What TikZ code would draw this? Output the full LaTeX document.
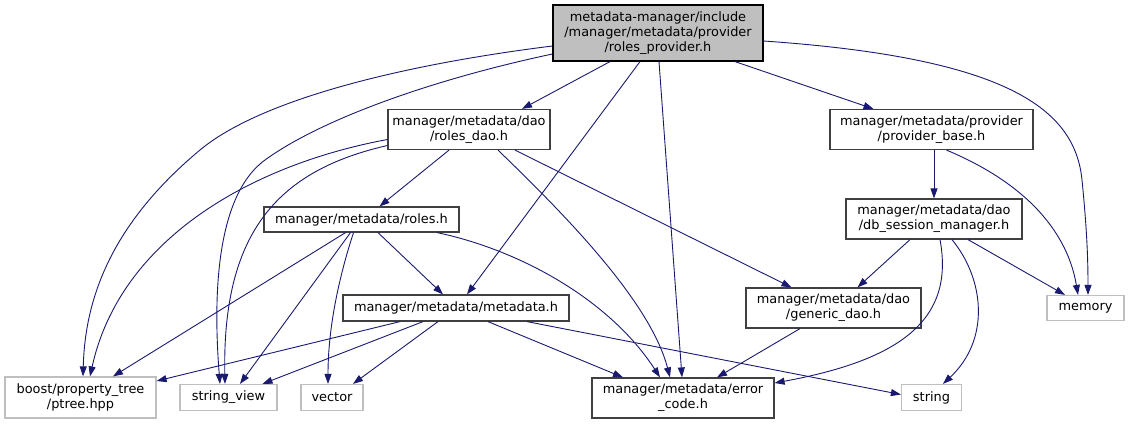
\documentclass[tikz,border=0pt]{standalone}
\usepackage{fontspec}
\setmainfont{DejaVu Sans}
\usetikzlibrary{arrows.meta}
\definecolor{edgeblue}{HTML}{191970}
\definecolor{boxline}{HTML}{404040}
\definecolor{extline}{HTML}{BFBFBF}
\definecolor{rootfill}{HTML}{BFBFBF}
\tikzset{
  filebox/.style={draw=boxline, line width=1.2pt, fill=white, inner sep=0pt,
    align=center, font=\fontsize{12.9pt}{15pt}\selectfont},
  extbox/.style={filebox, draw=extline},
  rootbox/.style={filebox, draw=black, fill=rootfill},
  dep/.style={draw=edgeblue, line width=0.9pt, -{Triangle[length=10pt,width=7pt]}},
}
\begin{document}
\begin{tikzpicture}[x=1pt,y=-1pt]
\useasboundingbox (0,0) rectangle (1130,424);
% nodes
\node[rootbox, minimum width=210pt, minimum height=56pt] (root) at (658,33)
  {metadata-manager/include\\/manager/metadata/provider\\/roles\_provider.h};
\node[filebox, minimum width=162pt, minimum height=40pt] (rolesdao) at (469,129.5)
  {manager/metadata/dao\\/roles\_dao.h};
\node[filebox, minimum width=203pt, minimum height=40pt] (provbase) at (931.5,129.5)
  {manager/metadata/provider\\/provider\_base.h};
\node[filebox, minimum width=195pt, minimum height=25pt] (roles) at (361.5,219.5)
  {manager/metadata/roles.h};
\node[filebox, minimum width=176pt, minimum height=40pt] (dbsess) at (934,219)
  {manager/metadata/dao\\/db\_session\_manager.h};
\node[filebox, minimum width=226pt, minimum height=26pt] (metadata) at (456,308)
  {manager/metadata/metadata.h};
\node[filebox, minimum width=175pt, minimum height=40pt] (generic) at (833.5,308)
  {manager/metadata/dao\\/generic\_dao.h};
\node[extbox, minimum width=77pt, minimum height=25pt] (memory) at (1085.5,308)
  {memory};
\node[extbox, minimum width=151pt, minimum height=41pt] (ptree) at (80.5,397.5)
  {boost/property\_tree\\/ptree.hpp};
\node[extbox, minimum width=97pt, minimum height=26pt] (sview) at (228.5,397.5)
  {string\_view};
\node[extbox, minimum width=62pt, minimum height=26pt] (vector) at (332,397.5)
  {vector};
\node[filebox, minimum width=182pt, minimum height=40pt] (errcode) at (683,398)
  {manager/metadata/error\\\_code.h};
\node[extbox, minimum width=60pt, minimum height=26pt] (string) at (931.5,397.5)
  {string};
% edges from root
\draw[dep] ([yshift=-13pt]root.west) .. controls (400,65) and (260,100) .. (200,150)
  .. controls (110,225) and (85,300) .. ([xshift=2.5pt]ptree.north);
\draw[dep] ([yshift=-21pt]root.west) .. controls (430,80) and (320,120) .. (265,160)
  .. controls (210,200) and (215,320) .. ([xshift=-8.5pt]sview.north);
\draw[dep] ([xshift=-48pt]root.south) -- ([xshift=53pt]rolesdao.north);
\draw[dep] ([xshift=-18pt]root.south) -- ([xshift=11pt]metadata.north);
\draw[dep] ([xshift=1pt]root.south) -- ([xshift=-1pt]errcode.north);
\draw[dep] ([xshift=77pt]root.south) -- ([xshift=-58pt]provbase.north);
\draw[dep] ([yshift=-8pt]root.east) .. controls (1010,58) and (1075,110) .. (1082,180)
  .. controls (1087,230) and (1088,260) .. ([xshift=2.5pt]memory.north);
% edges from roles_dao
\draw[dep] ([yshift=-10pt]rolesdao.west) .. controls (250,165) and (120,240) .. ([xshift=9.5pt]ptree.north);
\draw[dep] ([yshift=-16pt]rolesdao.west) .. controls (280,170) and (222,230) .. ([xshift=-3.5pt]sview.north);
\draw[dep] ([xshift=-20pt]rolesdao.south) -- ([xshift=18pt]roles.north);
\draw[dep] ([xshift=29pt]rolesdao.south) .. controls (560,210) and (650,300) .. ([xshift=-13pt]errcode.north);
\draw[dep] ([xshift=46pt]rolesdao.south) -- ([xshift=-42pt]generic.north);
% edges from provider_base
\draw[dep] ([xshift=2.5pt]provbase.south) -- (dbsess.north);
\draw[dep] ([xshift=15pt]provbase.south) .. controls (1030,185) and (1068,235) .. ([xshift=-7.5pt]memory.north);
% edges from db_session_manager
\draw[dep] ([xshift=-24pt]dbsess.south) -- ([xshift=24pt]generic.north);
\draw[dep] ([xshift=34pt]dbsess.south) -- ([xshift=-20.5pt]memory.north);
\draw[dep] ([xshift=6pt]dbsess.south) .. controls (955,320) and (900,360) .. ([yshift=15pt]errcode.east);
\draw[dep] ([xshift=18pt]dbsess.south) .. controls (985,280) and (990,340) .. ([xshift=11.5pt]string.north);
% edge from generic_dao
\draw[dep] ([xshift=-33.5pt]generic.south) -- ([xshift=34pt]errcode.north);
% edges from roles
\draw[dep] ([xshift=-16pt]roles.south) -- ([xshift=32.5pt]ptree.north);
\draw[dep] ([xshift=-11pt]roles.south) -- ([xshift=11.5pt]sview.north);
\draw[dep] ([xshift=-8pt]roles.south) .. controls (338,280) and (328,330) .. ([xshift=-4pt]vector.north);
\draw[dep] ([xshift=16.5pt]roles.south) -- ([xshift=-13pt]metadata.north);
\draw[dep] ([xshift=75.5pt]roles.south) .. controls (520,250) and (610,300) .. ([xshift=-23pt]errcode.north);
% edges from metadata
\draw[dep] ([xshift=-56pt]metadata.south) -- ([yshift=16.5pt]ptree.east);
\draw[dep] ([xshift=-33pt]metadata.south) -- ([xshift=34pt]sview.north);
\draw[dep] ([xshift=-18pt]metadata.south) -- ([xshift=21pt]vector.north);
\draw[dep] ([xshift=32pt]metadata.south) -- ([xshift=-60pt]errcode.north);
\draw[dep] ([xshift=71pt]metadata.south) -- ([yshift=3pt]string.west);
\end{tikzpicture}
\end{document}
